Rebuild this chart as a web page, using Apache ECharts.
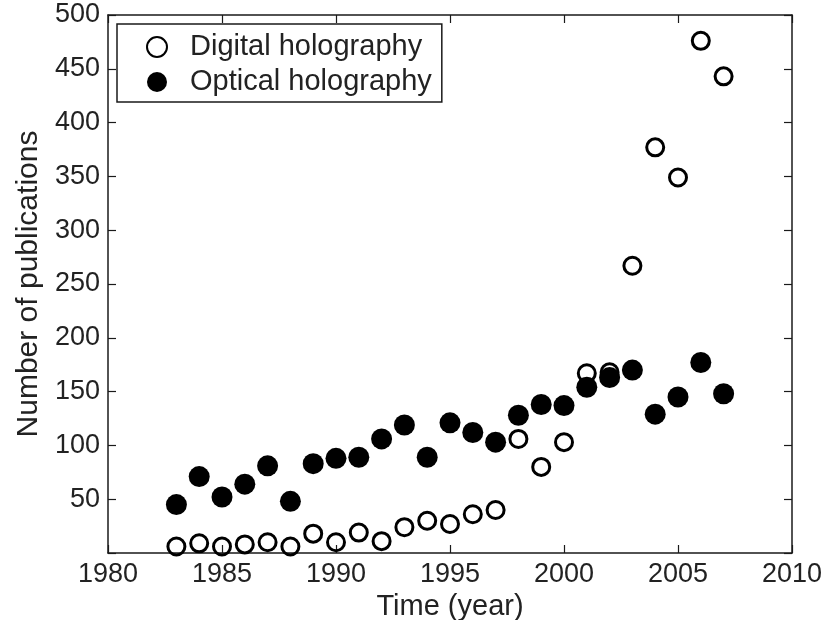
<!DOCTYPE html>
<html>
<head>
<meta charset="utf-8">
<script src="https://cdn.jsdelivr.net/npm/echarts@6/dist/echarts.min.js"></script>
<style>
html,body{margin:0;padding:0;background:#fff;}
#chart{width:828px;height:620px;}
</style>
</head>
<body>
<div id="chart"></div>
<script>
const years = [1983,1984,1985,1986,1987,1988,1989,1990,1991,1992,1993,1994,1995,1996,1997,1998,1999,2000,2001,2002,2003,2004,2005,2006,2007];
const digitalHolography = [6,9,6,8,10,6,18,10,19,11,24,30,27,36,40,106,80,103,167,168,267,377,349,476,443];
const opticalHolography = [45,71,52,64,81,48,83,88,89,106,119,89,121,112,103,128,138,137,154,163,170,129,145,177,148];
const seriesNames = ['Digital holography','Optical holography'];

const FONT = 'Liberation Sans, Arial, sans-serif';
const TXT = '#222';
const AX = '#1a1a1a';

const chart = echarts.init(document.getElementById('chart'), null, {renderer:'canvas'});

const axisCommon = {
  axisLine:{show:true, onZero:false, lineStyle:{color:AX, width:1.5}},
  axisTick:{show:true, inside:true, length:8, lineStyle:{color:AX, width:1.2}},
  splitLine:{show:false}
};

chart.setOption({
  animation:false,
  backgroundColor:'#fff',
  grid:{left:108, right:36, top:15, bottom:67, containLabel:false, outerBoundsMode:'none'},
  xAxis:[
    Object.assign({
      type:'value', min:1980, max:2010, interval:5, position:'bottom',
      name:'Time (year)', nameLocation:'middle', nameGap:31,
      nameTextStyle:{fontFamily:FONT, fontSize:29, color:TXT},
      axisLabel:{fontFamily:FONT, fontSize:27, color:TXT, margin:8,
        formatter:function(v){return String(v);}}
    }, axisCommon),
    Object.assign({
      type:'value', min:1980, max:2010, interval:5, position:'top',
      axisLabel:{show:false}
    }, axisCommon)
  ],
  yAxis:[
    Object.assign({
      type:'value', min:0, max:500, interval:50, position:'left',
      name:'Number of publications', nameLocation:'middle', nameGap:64,
      nameTextStyle:{fontFamily:FONT, fontSize:30, color:TXT},
      axisLabel:{fontFamily:FONT, fontSize:27, color:TXT, margin:8,
        formatter:function(v){return v===0?'':String(v);}}
    }, axisCommon),
    Object.assign({
      type:'value', min:0, max:500, interval:50, position:'right',
      axisLabel:{show:false}
    }, axisCommon)
  ],
  legend:{
    orient:'vertical', left:117, top:24,
    data:seriesNames,
    backgroundColor:'#fff', borderColor:AX, borderWidth:1.5,
    padding:[8,10,5,29],
    itemWidth:46, itemHeight:20, itemGap:5,
    textStyle:{fontFamily:FONT, fontSize:29, color:TXT, lineHeight:30, padding:[0,0,0,5]}
  },
  series:[
    {
      name:seriesNames[0], type:'scatter', xAxisIndex:0, yAxisIndex:0,
      symbol:'circle', symbolSize:17,
      itemStyle:{color:'rgba(0,0,0,0)', borderColor:'#000', borderWidth:3, opacity:1},
      data:years.map((y,i)=>[y,digitalHolography[i]]),
      z:2
    },
    {
      name:seriesNames[1], type:'scatter', xAxisIndex:0, yAxisIndex:0,
      symbol:'circle', symbolSize:21,
      itemStyle:{color:'#000', opacity:1},
      data:years.map((y,i)=>[y,opticalHolography[i]]),
      z:3
    }
  ]
});
</script>
</body>
</html>
